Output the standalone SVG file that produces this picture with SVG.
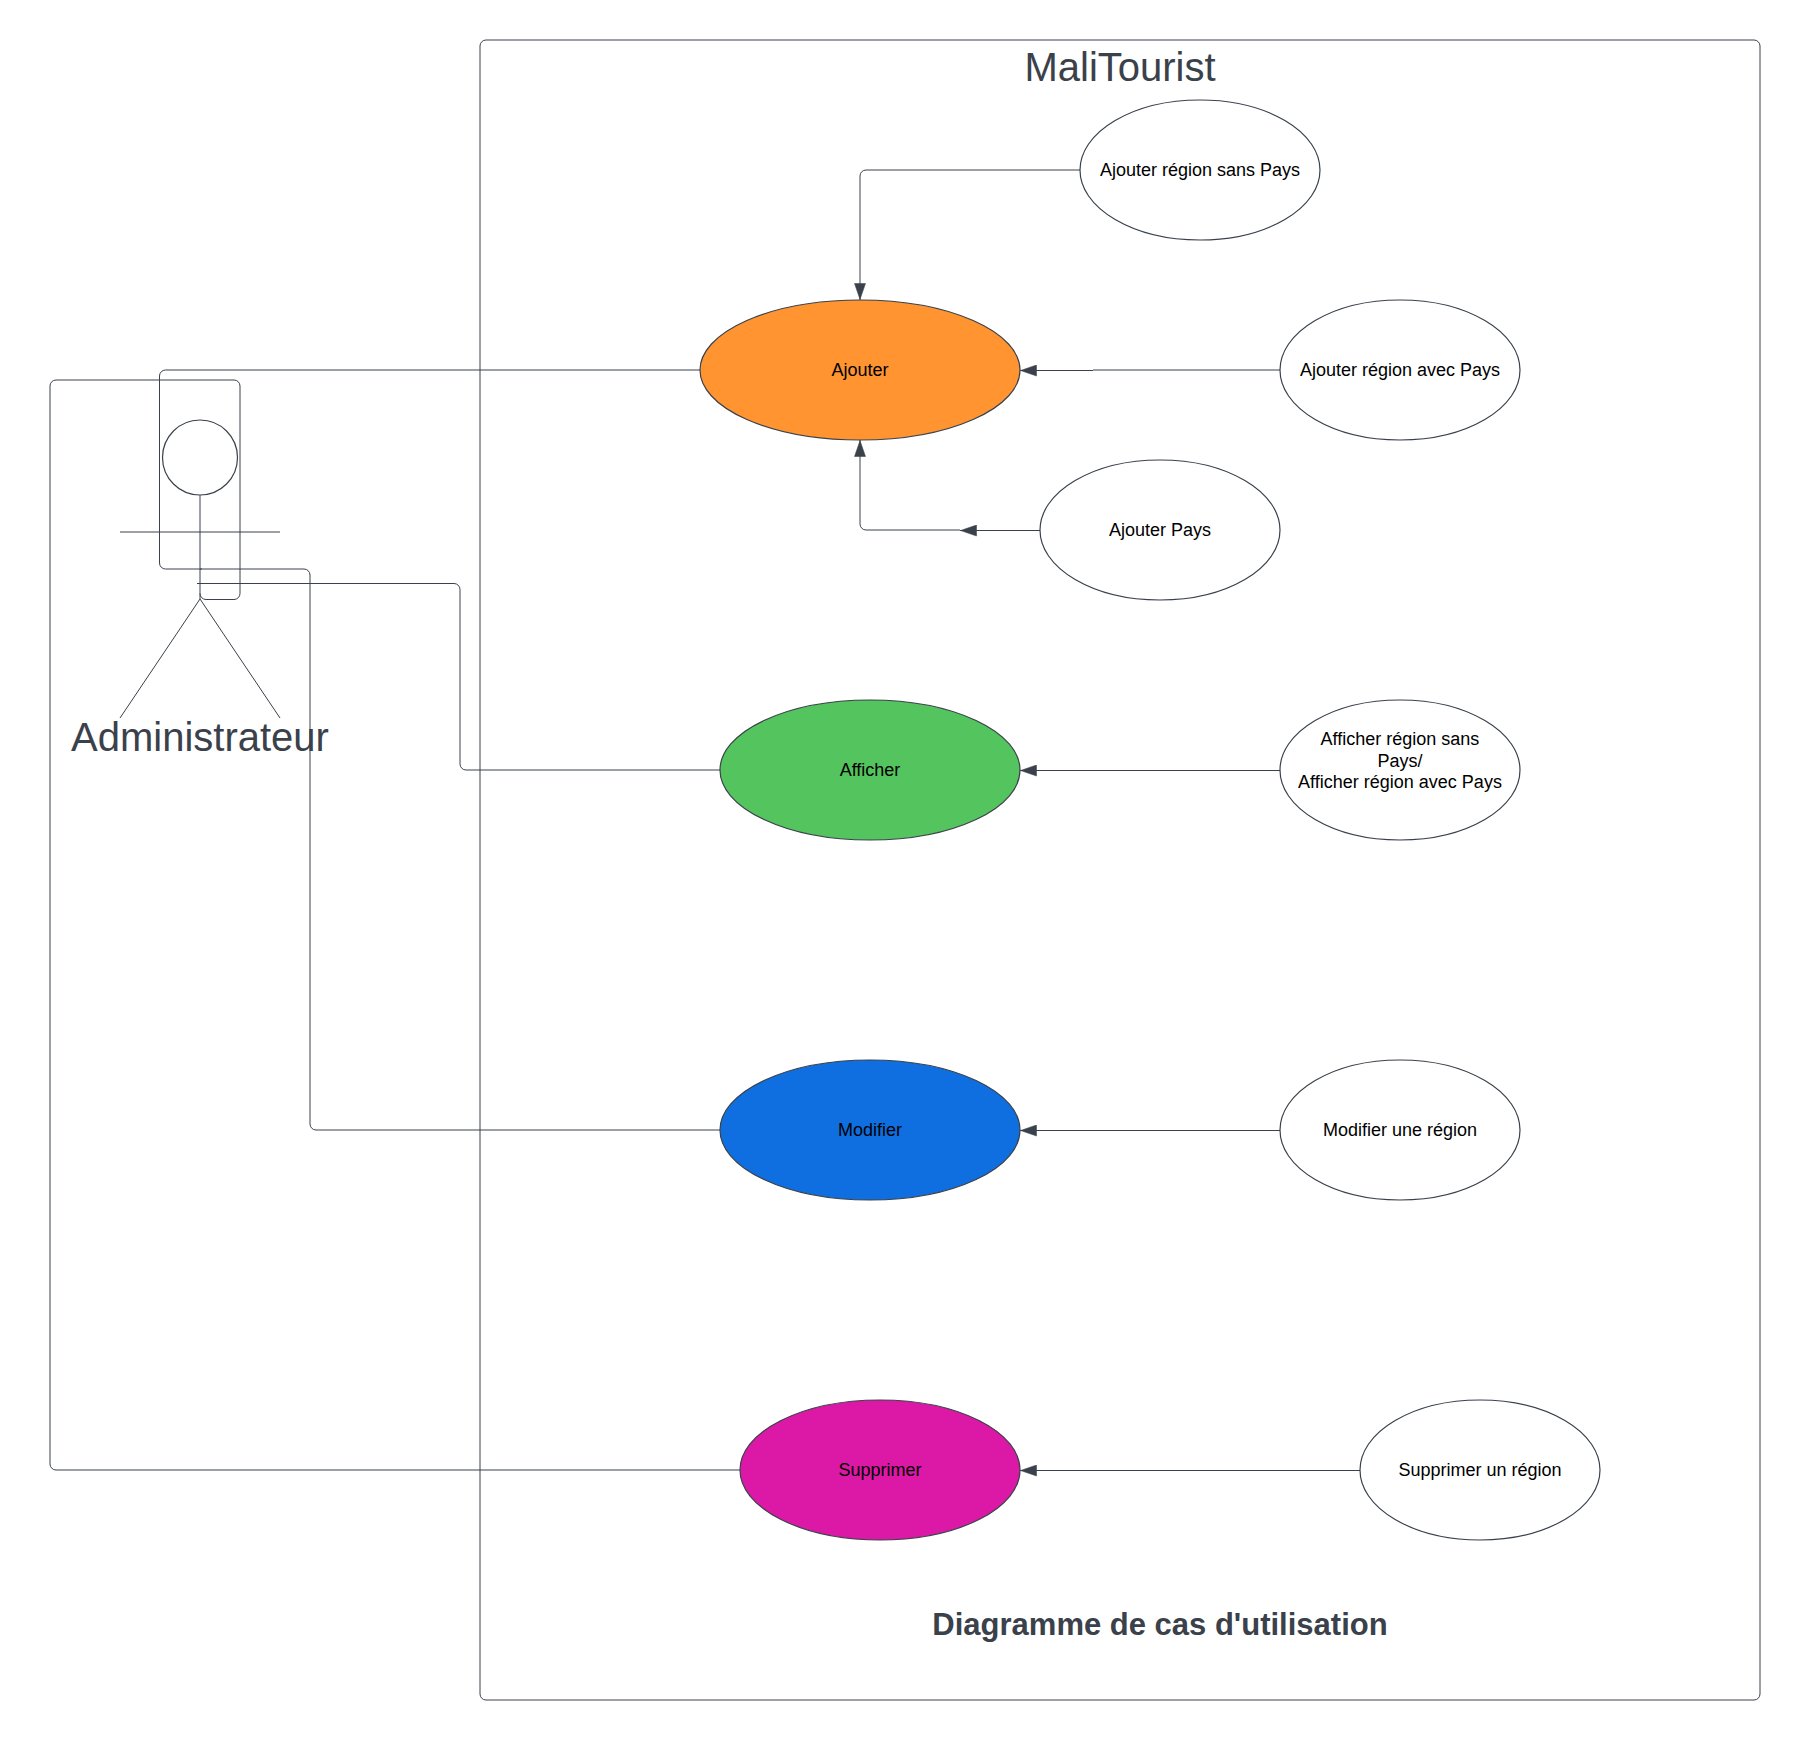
<svg xmlns="http://www.w3.org/2000/svg" width="1800" height="1740" viewBox="0 0 1800 1740">
<defs>
<marker id="arrow" markerWidth="18" markerHeight="12" refX="17" refY="6" orient="auto" markerUnits="userSpaceOnUse"><path d="M0.500 0.500L16.500 6L0.500 11.500Z" fill="#3a414a" stroke="#3a414a" stroke-width="0.500"/></marker>
</defs>
<style>
.s{fill:none;stroke:#3a414a;stroke-width:1}
.n{stroke:#3a414a;stroke-width:1.200}
.c{fill:none;stroke:#3a414a;stroke-width:1}
.d{marker-end:url(#arrow)}
text{font-family:"Liberation Sans",Arial,sans-serif;text-anchor:middle}
.t{font-size:18px;fill:#000}
.h{font-size:40px;fill:#3a414a}
</style>
<rect width="1800" height="1740" fill="#fff"/>
<g id="frame"><rect class="s" x="480" y="40" width="1280" height="1660" rx="6"/>
<text class="h" x="1120" y="81">MaliTourist</text>
<text x="1160" y="1635" font-size="31" font-weight="700" fill="#3a414a">Diagramme de cas d'utilisation</text></g>
<g id="actor">
<circle class="n" fill="none" cx="200" cy="457.500" r="37.500"/>
<path class="s" d="M200 495V599M120 532H280M200 599L120 718M200 599L280 718"/>
<text class="h" x="200" y="751">Administrateur</text>
</g>
<g id="connectors">
<path class="c" d="M700 370H165.500a6 6 0 0 0-6 6V563a6 6 0 0 0 6 6H202"/>
<path class="c" d="M720 1130H316a6 6 0 0 1-6-6V575a6 6 0 0 0-6-6H200"/>
<path class="c" d="M720 770H466a6 6 0 0 1-6-6V589.500a6 6 0 0 0-6-6H197"/>
<path class="c" d="M740 1470H56a6 6 0 0 1-6-6V386a6 6 0 0 1 6-6H234a6 6 0 0 1 6 6V593.500a6 6 0 0 1-6 6H206a6 6 0 0 1-6-6"/>
<path class="c d" d="M1080 170H866a6 6 0 0 0-6 6V300"/>
<path class="c" d="M1280 370H1093"/>
<path class="c d" d="M1093 370.500H1020"/>
<path class="c d" d="M1040 530.500H960"/>
<path class="c d" d="M960 530H866a6 6 0 0 1-6-6V440"/>
<path class="c d" d="M1280 770.500H1020"/>
<path class="c d" d="M1280 1130.500H1020"/>
<path class="c d" d="M1360 1470.500H1020"/>
</g>
<g id="ajouter"><ellipse class="n" cx="860" cy="370" rx="160" ry="70" fill="#ff9431"/><text class="t" x="860" y="376">Ajouter</text></g>
<g id="afficher"><ellipse class="n" cx="870" cy="770" rx="150" ry="70" fill="#54c45e"/><text class="t" x="870" y="776">Afficher</text></g>
<g id="modifier"><ellipse class="n" cx="870" cy="1130" rx="150" ry="70" fill="#0f6fe0"/><text class="t" x="870" y="1136">Modifier</text></g>
<g id="supprimer"><ellipse class="n" cx="880" cy="1470" rx="140" ry="70" fill="#dc18a6"/><text class="t" x="880" y="1476">Supprimer</text></g>
<g id="ajouter-sans-pays"><ellipse class="n" cx="1200" cy="170" rx="120" ry="70" fill="#fff"/><text class="t" x="1200" y="176">Ajouter région sans Pays</text></g>
<g id="ajouter-avec-pays"><ellipse class="n" cx="1400" cy="370" rx="120" ry="70" fill="#fff"/><text class="t" x="1400" y="376">Ajouter région avec Pays</text></g>
<g id="ajouter-pays"><ellipse class="n" cx="1160" cy="530" rx="120" ry="70" fill="#fff"/><text class="t" x="1160" y="536">Ajouter Pays</text></g>
<g id="afficher-region"><ellipse class="n" cx="1400" cy="770" rx="120" ry="70" fill="#fff"/><text class="t" x="1400" y="745">Afficher région sans</text><text class="t" x="1400" y="767">Pays/</text><text class="t" x="1400" y="788">Afficher région avec Pays</text></g>
<g id="modifier-region"><ellipse class="n" cx="1400" cy="1130" rx="120" ry="70" fill="#fff"/><text class="t" x="1400" y="1136">Modifier une région</text></g>
<g id="supprimer-region"><ellipse class="n" cx="1480" cy="1470" rx="120" ry="70" fill="#fff"/><text class="t" x="1480" y="1476">Supprimer un région</text></g>
</svg>
